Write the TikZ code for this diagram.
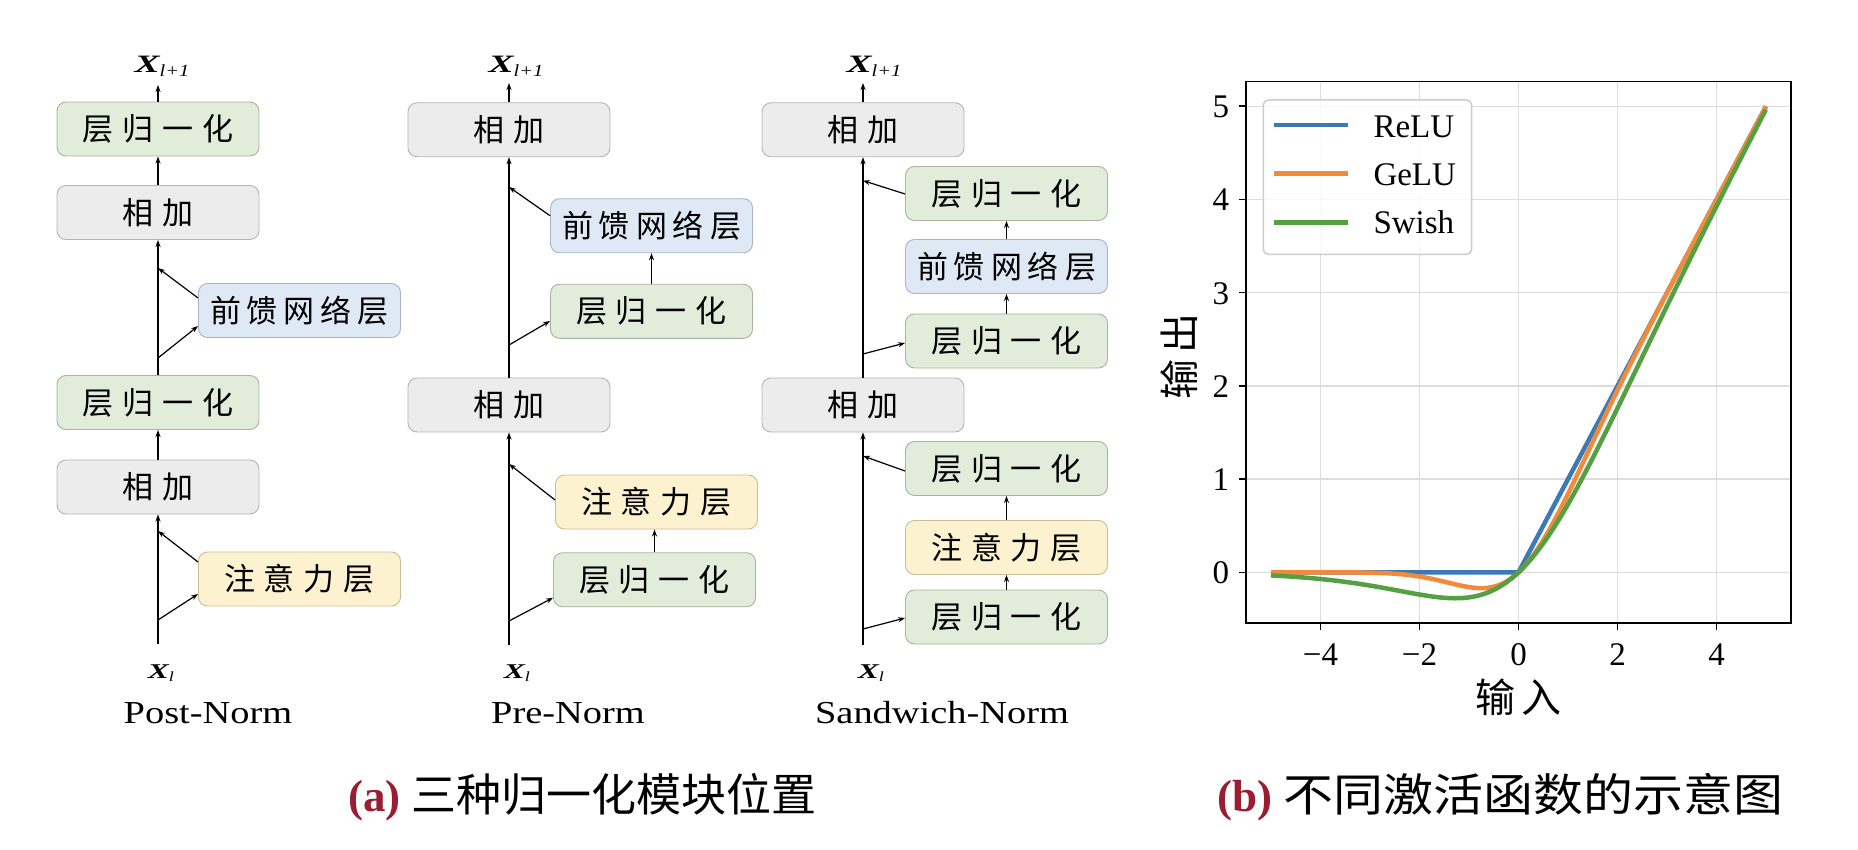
\documentclass[tikz,border=0pt]{standalone}
\usepackage{fontspec}
\usepackage{graphicx}
\setmainfont{Liberation Serif}
\newfontfamily\cjk{Noto Sans CJK SC}
\usetikzlibrary{arrows.meta}
\newcommand{\gsp}{\kern9pt}
\newcommand{\Xlab}{\scalebox{1.5}[1]{\fontsize{21}{24}\selectfont\bfseries\itshape X}\raisebox{-3pt}{\scalebox{1.3}[1]{\fontsize{14}{16}\selectfont\itshape l}}}
\newcommand{\Xnext}{\scalebox{1.5}[1]{\fontsize{25}{28}\selectfont\bfseries\itshape X}\raisebox{-4pt}{\scalebox{1.2}[1]{\fontsize{17}{19}\selectfont\itshape l+1}}}
\definecolor{addfill}{HTML}{ECECEC}
\definecolor{addline}{HTML}{B4B4B4}
\definecolor{lnfill}{HTML}{E2ECDA}
\definecolor{lnline}{HTML}{A9B39F}
\definecolor{ffnfill}{HTML}{DEE9F5}
\definecolor{ffnline}{HTML}{A8B4C4}
\definecolor{attfill}{HTML}{FDF2CF}
\definecolor{attline}{HTML}{C9BD99}
\definecolor{reluc}{HTML}{3C7AB6}
\definecolor{geluc}{HTML}{F28A3A}
\definecolor{swishc}{HTML}{55A043}
\definecolor{gridc}{HTML}{DCDCDC}
\definecolor{capred}{HTML}{9A1E32}
\begin{document}
\begin{tikzpicture}[x=1pt,y=-1pt,
  blk/.style={rounded corners=9pt, minimum width=202pt, minimum height=54pt, inner sep=0pt, line width=0.9pt, font=\cjk\fontsize{31}{36}\selectfont},
  addb/.style={blk, fill=addfill, draw=addline},
  lnb/.style={blk, fill=lnfill, draw=lnline},
  ffnb/.style={blk, fill=ffnfill, draw=ffnline},
  attb/.style={blk, fill=attfill, draw=attline},
  arr/.style={-{Stealth[length=7pt,width=5pt]}, line width=1.2pt},
  namelab/.style={anchor=base, inner sep=0pt},
  gridl/.style={draw=gridc, line width=1.5pt},
  axisl/.style={draw=black, line width=1.6pt},
  ticklab/.style={inner sep=0pt, font=\fontsize{33}{40}\selectfont},
  curve/.style={line width=4.5pt, line join=round},
  axlab/.style={inner sep=0pt, font=\cjk\fontsize{40}{46}\selectfont},
  caplab/.style={anchor=base west, inner sep=0pt, font=\fontsize{45}{52}\selectfont}
]
\useasboundingbox[fill=white] (0,0) rectangle (1858,850);

% ---------------- Post-Norm ----------------
\node[lnb]  (pLN1)  at (158,129)   {层\gsp 归\gsp 一\gsp 化};
\node[addb] (pAdd1) at (158,212.5) {相\gsp 加};
\node[ffnb] (pFFN)  at (299.5,310.5) {前\kern6pt 馈\kern6pt 网\kern6pt 络\kern6pt 层};
\node[lnb]  (pLN2)  at (158,402.5) {层\gsp 归\gsp 一\gsp 化};
\node[addb] (pAdd2) at (158,487)   {相\gsp 加};
\node[attb] (pAtt)  at (299.5,579) {注\gsp 意\gsp 力\gsp 层};
\coordinate (pIn) at (158,644);
\coordinate (pOut) at (158,85);
\coordinate (pb1) at (158,620);
\coordinate (pr1) at (158,531);
\coordinate (pb2) at (158,358);
\coordinate (pr2) at (158,268);
\draw[arr] (pIn) -- (pAdd2.south);
\draw[arr] (pAdd2.north) -- (pLN2.south);
\draw[arr] (pLN2.north) -- (pAdd1.south);
\draw[arr] (pAdd1.north) -- (pLN1.south);
\draw[arr] (pLN1.north) -- (pOut);
\draw[arr] (pb1) -- ([yshift=-15pt]pAtt.west);
\draw[arr] ([yshift=17pt]pAtt.west) -- (pr1);
\draw[arr] (pb2) -- ([yshift=-15.5pt]pFFN.west);
\draw[arr] ([yshift=12.5pt]pFFN.west) -- (pr2);
\node[namelab] (pXo) at (162,72.7) {\Xnext};
\node[namelab] (pXi) at (161,678) {\Xlab};
\node[namelab] (pName) at (208,723) {\scalebox{1.2}[1]{\fontsize{32}{38}\selectfont Post-Norm}};

% ---------------- Pre-Norm ----------------
\node[addb] (rAdd1) at (509,129.75) {相\gsp 加};
\node[ffnb] (rFFN)  at (651.5,225.75) {前\kern6pt 馈\kern6pt 网\kern6pt 络\kern6pt 层};
\node[lnb]  (rLNa)  at (651.5,311.3) {层\gsp 归\gsp 一\gsp 化};
\node[addb] (rAdd2) at (509,405) {相\gsp 加};
\node[attb] (rAtt)  at (656.5,502) {注\gsp 意\gsp 力\gsp 层};
\node[lnb]  (rLNb)  at (654.5,579.75) {层\gsp 归\gsp 一\gsp 化};
\coordinate (rIn) at (509,645);
\coordinate (rOut) at (509,83);
\coordinate (rb1) at (509,621);
\coordinate (rr1) at (509,464);
\coordinate (rb2) at (509,345);
\coordinate (rr2) at (509,187);
\draw[arr] (rIn) -- (rAdd2.south);
\draw[arr] (rAdd2.north) -- (rAdd1.south);
\draw[arr] (rAdd1.north) -- (rOut);
\draw[arr] (rb1) -- ([yshift=-18pt]rLNb.west);
\draw[arr] (rLNb.north) -- (rLNb.north |- rAtt.south);
\draw[arr] ([yshift=2pt]rAtt.west) -- (rr1);
\draw[arr] (rb2) -- ([yshift=-9.7pt]rLNa.west);
\draw[arr] (rLNa.north) -- (rFFN.south);
\draw[arr] ([yshift=10pt]rFFN.west) -- (rr2);
\node[namelab] (rXo) at (516,72.7) {\Xnext};
\node[namelab] (rXi) at (517,678) {\Xlab};
\node[namelab] (rName) at (568,723) {\scalebox{1.2}[1]{\fontsize{32}{38}\selectfont Pre-Norm}};

% ---------------- Sandwich-Norm ----------------
\node[addb] (sAdd1) at (863,129.75) {相\gsp 加};
\node[lnb]  (sLN1)  at (1006.5,193.5) {层\gsp 归\gsp 一\gsp 化};
\node[ffnb] (sFFN)  at (1006.5,266.5) {前\kern6pt 馈\kern6pt 网\kern6pt 络\kern6pt 层};
\node[lnb]  (sLN2)  at (1006.5,341) {层\gsp 归\gsp 一\gsp 化};
\node[addb] (sAdd2) at (863,405) {相\gsp 加};
\node[lnb]  (sLN3)  at (1006.5,468.5) {层\gsp 归\gsp 一\gsp 化};
\node[attb] (sAtt)  at (1006.5,547.5) {注\gsp 意\gsp 力\gsp 层};
\node[lnb]  (sLN4)  at (1006.5,617) {层\gsp 归\gsp 一\gsp 化};
\coordinate (sIn) at (863,645);
\coordinate (sOut) at (863,83);
\coordinate (sb1) at (863,629);
\coordinate (sr1) at (863,456);
\coordinate (sb2) at (863,354);
\coordinate (sr2) at (863,180.6);
\draw[arr] (sIn) -- (sAdd2.south);
\draw[arr] (sAdd2.north) -- (sAdd1.south);
\draw[arr] (sAdd1.north) -- (sOut);
\draw[arr] (sb1) -- ([yshift=-1pt]sLN4.west);
\draw[arr] (sLN4.north) -- (sAtt.south);
\draw[arr] (sAtt.north) -- (sLN3.south);
\draw[arr] ([yshift=-2.5pt]sLN3.west) -- (sr1);
\draw[arr] (sb2) -- ([yshift=-2pt]sLN2.west);
\draw[arr] (sLN2.north) -- (sFFN.south);
\draw[arr] (sFFN.north) -- (sLN1.south);
\draw[arr] ([yshift=-0.5pt]sLN1.west) -- (sr2);
\node[namelab] (sXo) at (874,72.7) {\Xnext};
\node[namelab] (sXi) at (871,678) {\Xlab};
\node[namelab] (sName) at (942,723) {\scalebox{1.2}[1]{\fontsize{32}{38}\selectfont Sandwich-Norm}};

% ---------------- Plot ----------------
\begin{scope}[shift={(1518.5pt,-572.3pt)}, x=49.5pt, y=93.2pt]
  \foreach \t in {-4,-2,0,2,4} \draw[gridl] (\t,-0.542) -- (\t,5.264);
  \foreach \t in {0,...,5} \draw[gridl] (-5.5,\t) -- (5.5,\t);
  \draw[curve, reluc] (-5,0) -- (0,0) -- (5,5);
  \draw[curve, geluc] plot[domain=-5:5, samples=181] (\x, {0.5*\x*(1+tanh(0.7978845*(\x+0.044715*\x*\x*\x)))});
  \draw[curve, swishc] plot[domain=-5:5, samples=181] (\x, {\x/(1+exp(-\x))});
  \draw[axisl] (-5.5,-0.542) rectangle (5.5,5.264);
  \foreach \t/\l in {-4/−4,-2/−2,0/0,2/2,4/4} {
    \draw[axisl] (\t,-0.542) -- ++(0,-7pt);
    \node[ticklab, anchor=base] at ([yshift=-42.2pt]\t,-0.542) {\l};
  }
  \foreach \t in {0,...,5} {
    \draw[axisl] (-5.5,\t) -- ++(-7pt,0);
    \node[ticklab, anchor=base east] at ([xshift=-17pt,yshift=-11.5pt]-5.5,\t) {\t};
  }
\end{scope}
\node[axlab] (xl) at (1518,697) {输\kern6pt 入};
\node[axlab, rotate=90] (yl) at (1179,356) {输\kern6pt 出};
% legend
\draw[draw=gray!40, line width=1.5pt, fill=white, fill opacity=0.8, rounded corners=5pt] (1263.3,100) rectangle (1471.7,254.3);
\draw[curve, reluc] (1274,125) -- (1348.3,125);
\draw[curve, geluc] (1274,173.3) -- (1348.3,173.3);
\draw[curve, swishc] (1274,222.3) -- (1348.3,222.3);
\node[ticklab, anchor=base west] (lg1) at (1373.3,137.3) {ReLU};
\node[ticklab, anchor=base west] (lg2) at (1373.3,185.7) {GeLU};
\node[ticklab, anchor=base west] (lg3) at (1373.3,233.3) {Swish};

% ---------------- Captions ----------------
\node[caplab] (capa) at (348,811) {{\color{capred}\bfseries (a)} {\cjk 三种归一化模块位置}};
\node[caplab] (capb) at (1217,811) {{\color{capred}\bfseries (b)} \scalebox{1.11}[1]{\cjk 不同激活函数的示意图}};
\end{tikzpicture}
\end{document}
